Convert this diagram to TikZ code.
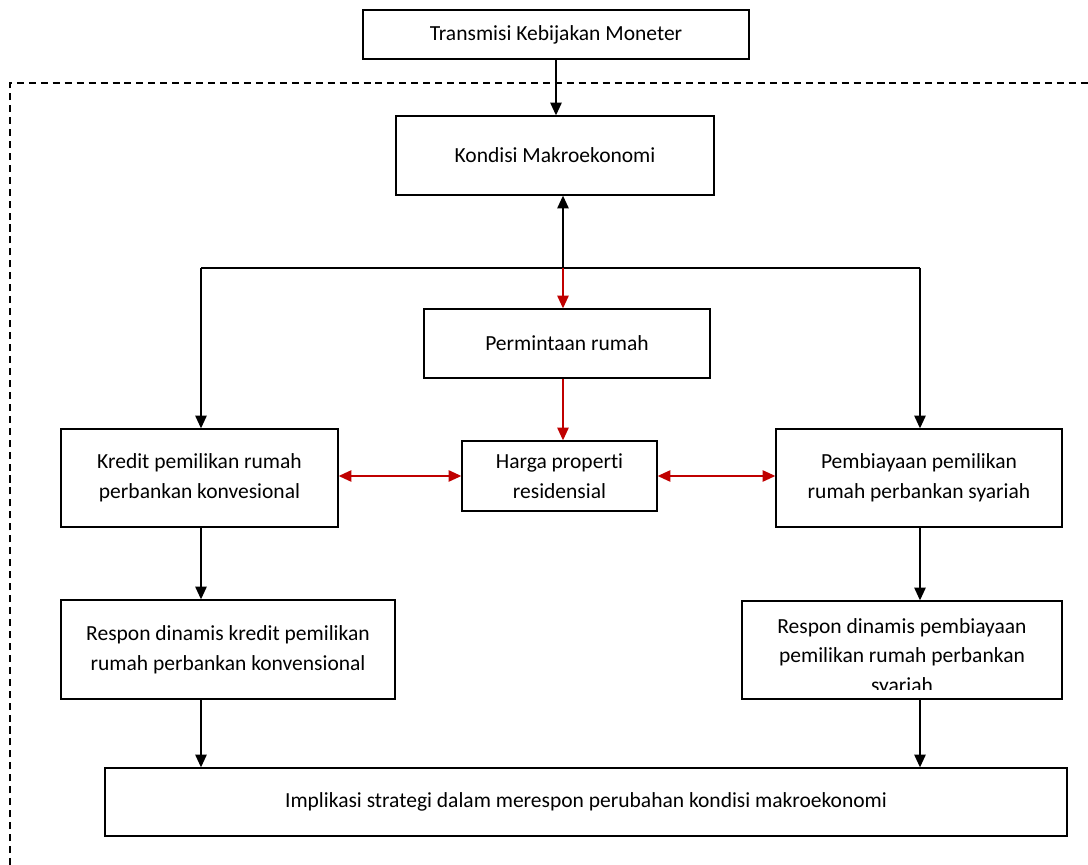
\documentclass[tikz,border=0pt]{standalone}
\usepackage{fontspec}
\setmainfont[Ligatures=NoCommon]{Carlito}
\usetikzlibrary{arrows.meta}
\definecolor{darkred}{RGB}{192,0,0}

\begin{document}
\begin{tikzpicture}[
  x=0.025cm, y=-0.025cm,
  box/.style={draw, line width=0.9pt, align=center, inner sep=0pt, font=\fontsize{15.3}{21}\selectfont},
  arr/.style={-{Triangle[length=9pt,width=8pt]}, line width=1.2pt},
  redarr/.style={arr, draw=darkred, color=darkred},
  frame/.style={dashed, dash pattern=on 5pt off 3.5pt, line width=0.8pt}
]
\useasboundingbox (0,0) rectangle (1088,865);

\draw[frame] (10,865) -- (10,83) -- (1088,83);

\node[box, minimum width=9.65cm, minimum height=1.225cm] (trans)   at (556,34.5) {Transmisi Kebijakan Moneter};
\node[box, minimum width=7.95cm, minimum height=1.975cm] (kondisi) at (555,155.5) {Kondisi Makroekonomi};
\node[box, minimum width=7.15cm, minimum height=1.725cm] (minta)   at (567,343.5) {Permintaan rumah};
\node[box, minimum width=4.875cm, minimum height=1.75cm] (harga)   at (559.5,476) {Harga properti\\residensial};
\node[box, minimum width=6.925cm, minimum height=2.45cm] (kpr)     at (199.5,478) {Kredit pemilikan rumah\\perbankan konvesional};
\node[box, minimum width=7.15cm, minimum height=2.45cm]  (pprs)    at (919,478) {Pembiayaan pemilikan\\rumah perbankan syariah};
\node[box, minimum width=8.35cm, minimum height=2.475cm] (responL) at (228,649.5) {Respon dinamis kredit pemilikan\\rumah perbankan konvensional};
\node[box, minimum width=8cm, minimum height=2.45cm]     (responR) at (902,650) {};
\node[box, minimum width=24.05cm, minimum height=1.7cm] (implikasi) at (586,802) {Implikasi strategi dalam merespon perubahan kondisi makroekonomi};

% teks kotak kanan terpotong di bawah
\begin{scope}
  \clip (responR.north west) rectangle ([yshift=0.25cm]responR.south east);
  \node[align=center, inner sep=0pt, font=\fontsize{15.3}{21}\selectfont] (responRtxt) at (902,657)
    {Respon dinamis pembiayaan\\pemilikan rumah perbankan\\syariah};
\end{scope}

% titik cabang
\coordinate (hub)  at (563,268);
\coordinate (hubL) at (201,268);
\coordinate (hubR) at (920,268);

\draw[arr] (trans.south) -- (trans.south |- kondisi.north);
\draw[arr] (hub) -- (hub |- kondisi.south);
\draw[line width=1.2pt] (hubL) -- (hubR);
\draw[arr] (hubL) -- (hubL |- kpr.north);
\draw[arr] (hubR) -- (hubR |- pprs.north);

\draw[redarr] (hub) -- (hub |- minta.north);
\draw[redarr] (hub |- minta.south) -- (hub |- harga.north);
\draw[redarr, {Triangle[length=9pt,width=8pt]}-{Triangle[length=9pt,width=8pt]}] (harga.west -| kpr.east) -- (harga.west);
\draw[redarr, {Triangle[length=9pt,width=8pt]}-{Triangle[length=9pt,width=8pt]}] (harga.east) -- (harga.east -| pprs.west);

\draw[arr] (hubL |- kpr.south) -- (hubL |- responL.north);
\draw[arr] (hubR |- pprs.south) -- (hubR |- responR.north);
\draw[arr] (hubL |- responL.south) -- (hubL |- implikasi.north);
\draw[arr] (hubR |- responR.south) -- (hubR |- implikasi.north);
\end{tikzpicture}
\end{document}
